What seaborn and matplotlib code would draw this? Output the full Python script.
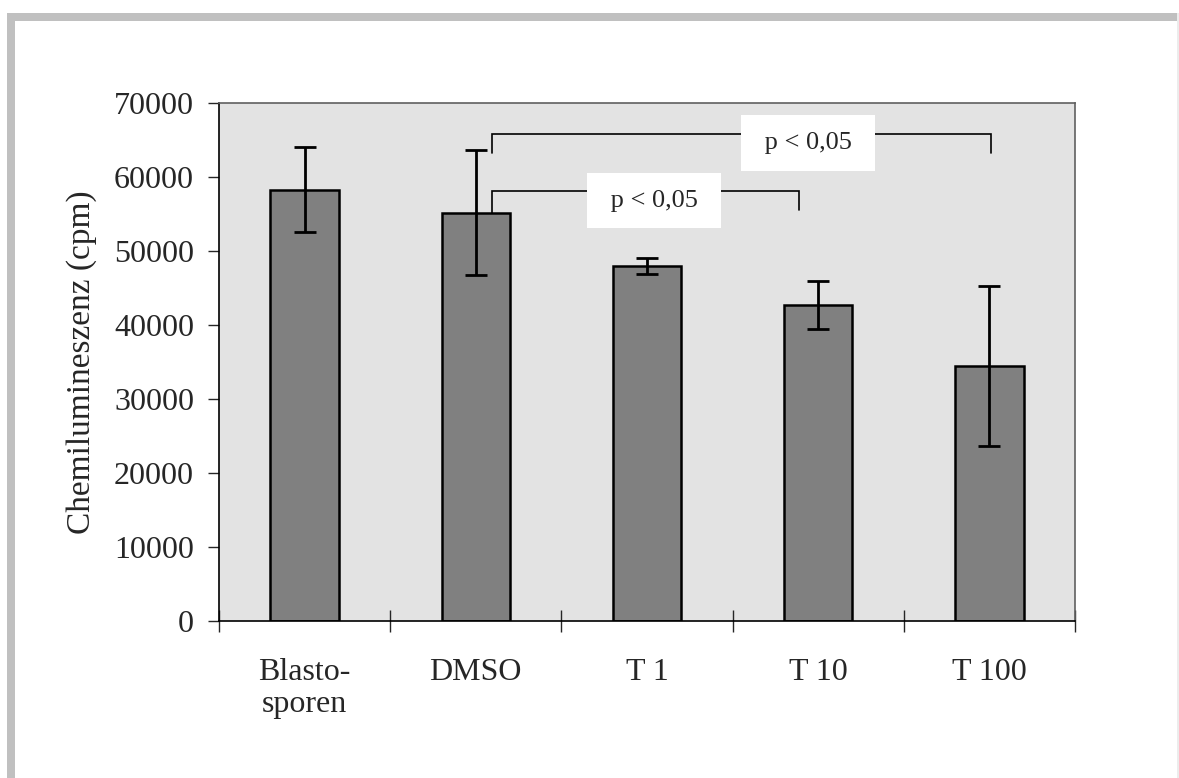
import matplotlib
matplotlib.use("Agg")
import matplotlib.pyplot as plt
import seaborn as sns
import pandas as pd
from matplotlib.patches import Rectangle

# values
groups = ["Blasto-\nsporen", "DMSO", "T 1", "T 10", "T 100"]
means = [58300, 55200, 48000, 42700, 34500]
errors = [5700, 8400, 1100, 3300, 10800]

# significance brackets: (x left, x right, y top, y bottom left, y bottom right, label x, label y)
brackets = [
    (1.094, 4.01, 65850, 63300, 63300, 2.94, 64600),
    (1.094, 2.886, 58100, 55200, 55500, 2.04, 56800),
]
bracket_labels = [" p < 0,05 ", " p < 0,05 "]

df = pd.DataFrame({"Gruppe": groups, "cpm": means})

sns.set_style("white")
plt.rcParams["font.family"] = ["Liberation Serif", "DejaVu Serif"]

fig = plt.figure(figsize=(11.79, 7.78), dpi=100)
W, H = 1179, 778

# grey frame around the picture
frame_col = "#c0c0c0"
fig.patches.append(Rectangle((7 / W, 0), 8 / W, 1 - 13 / H, transform=fig.transFigure,
                             facecolor=frame_col, edgecolor="none", zorder=0))
fig.patches.append(Rectangle((7 / W, 1 - 21 / H), 1 - 7 / W, 8 / H, transform=fig.transFigure,
                             facecolor=frame_col, edgecolor="none", zorder=0))
fig.patches.append(Rectangle((1177 / W, 0), 2 / W, 1 - 13 / H, transform=fig.transFigure,
                             facecolor="#ececec", edgecolor="none", zorder=0))

ax = fig.add_axes([219 / W, 1 - 621 / H, (1075 - 219) / W, (621 - 103) / H])
ax.set_facecolor("#e3e3e3")

sns.barplot(data=df, x="Gruppe", y="cpm", color="#808080", saturation=1,
            width=0.40, edgecolor="black", linewidth=1.8, ax=ax, zorder=2)

ax.errorbar(x=list(range(len(groups))), y=means, yerr=errors, fmt="none",
            ecolor="black", elinewidth=2, capsize=8, capthick=2, zorder=3)

for (x1, x2, yt, yl, yr, tx, ty), lab in zip(brackets, bracket_labels):
    ax.plot([x1, x1, x2, x2], [yl, yt, yt, yr], color="black", lw=1.2, zorder=4,
            solid_joinstyle="miter")
    ax.text(tx, ty, lab, ha="center", va="center", fontsize=19, zorder=5,
            bbox=dict(facecolor="white", edgecolor="none", pad=12))

ax.set_ylim(0, 70000)
ax.set_xlim(-0.5, len(groups) - 0.5)
ax.set_yticks(range(0, 70001, 10000))
ax.tick_params(axis="y", direction="out", length=8, width=1, labelsize=23, pad=10, left=True)
ax.set_xticks(range(len(groups)))
ax.set_xticklabels(groups, fontsize=23, linespacing=1.1)
ax.tick_params(axis="x", which="major", length=0, pad=27)
ax.set_xticks([i - 0.5 for i in range(len(groups) + 1)], minor=True)
ax.tick_params(axis="x", which="minor", direction="inout", length=16, width=1, bottom=True)

ax.set_xlabel("")
ax.set_ylabel("Chemilumineszenz (cpm)", fontsize=24, labelpad=12)

for s in ["left", "bottom"]:
    ax.spines[s].set_color("black")
    ax.spines[s].set_linewidth(1.2)
for s in ["top", "right"]:
    ax.spines[s].set_color("#606060")
    ax.spines[s].set_linewidth(1.2)

fig.savefig("out.png", dpi=100)
